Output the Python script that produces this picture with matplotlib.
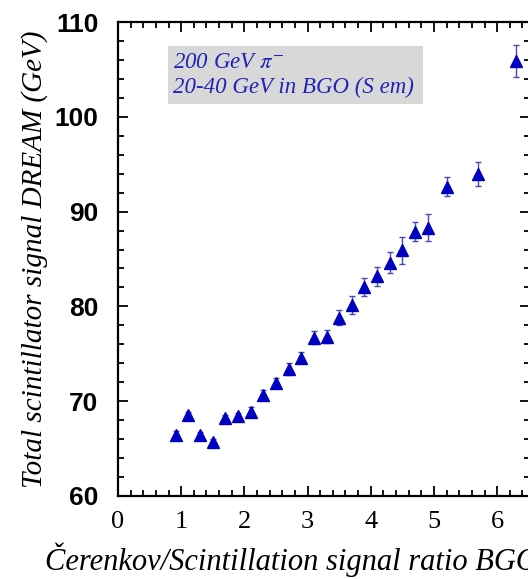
import matplotlib
matplotlib.use("Agg")
import matplotlib.pyplot as plt
from matplotlib import font_manager
from matplotlib.patches import Rectangle
from matplotlib.ticker import MultipleLocator

# Measured points: BGO Cerenkov/scintillation ratio vs total DREAM scintillator signal
ratio = [0.92, 1.1, 1.3, 1.5, 1.7, 1.9, 2.1, 2.3, 2.5, 2.7, 2.9, 3.1,
         3.3, 3.5, 3.7, 3.9, 4.1, 4.3, 4.5, 4.7, 4.9, 5.2, 5.7, 6.3]
signal = [66.4, 68.5, 66.4, 65.7, 68.2, 68.4, 68.9, 70.7, 71.9, 73.4, 74.6, 76.7,
          76.8, 78.8, 80.1, 82.0, 83.2, 84.6, 85.9, 87.9, 88.3, 92.6, 94.0, 105.9]
signal_err = [0.45, 0.4, 0.4, 0.35, 0.35, 0.4, 0.5, 0.45, 0.55, 0.6, 0.6, 0.7,
              0.7, 0.8, 0.95, 0.95, 1.0, 1.1, 1.45, 1.05, 1.4, 1.0, 1.25, 1.7]

x_ticks = [0, 1, 2, 3, 4, 5, 6]
y_ticks = [60, 70, 80, 90, 100, 110]
x_label = "Čerenkov/Scintillation signal ratio BGO"
y_label = "Total scintillator signal DREAM (GeV)"
box_lines = ["200 GeV $\\pi^{-}$", "20-40 GeV in BGO (S em)"]

available = {f.name for f in font_manager.fontManager.ttflist}
serif = "Liberation Serif" if "Liberation Serif" in available else "DejaVu Serif"
tick_sans = "Liberation Sans Narrow" if "Liberation Sans Narrow" in available else "Liberation Sans"

plt.rcParams["mathtext.fontset"] = "stix"

fig = plt.figure(figsize=(5.28, 5.79), dpi=100)
fig.patch.set_facecolor("white")
ax = fig.add_axes([118 / 528, 83 / 579, 412 / 528, 474 / 579])

ax.errorbar(ratio, signal, yerr=signal_err, fmt="^", color="#0000c0",
            markersize=8, ecolor="#4848b0", elinewidth=1.0, capsize=2.5,
            capthick=1.0, zorder=3)

ax.set_xlim(0, 6.52)
ax.set_ylim(60, 110)
ax.set_xticks(x_ticks)
ax.set_yticks(y_ticks)
ax.xaxis.set_minor_locator(MultipleLocator(0.2))
ax.yaxis.set_minor_locator(MultipleLocator(2))
ax.tick_params(which="both", direction="in", top=True, right=True, width=1.3)
ax.tick_params(which="major", length=7)
ax.tick_params(which="minor", length=4)
ax.tick_params(axis="x", which="major", pad=11)
ax.tick_params(axis="y", which="major", pad=14)
for s in ax.spines.values():
    s.set_linewidth(1.6)

ax.set_xticklabels([str(v) for v in x_ticks], fontfamily=serif, fontsize=19)
ax.set_yticklabels([str(v) for v in y_ticks], fontfamily=tick_sans,
                   fontweight="bold", fontsize=19)

ax.set_ylabel(y_label, fontfamily=serif, fontstyle="italic", fontsize=21, labelpad=5)
fig.text(45 / 528, 1 - 560 / 579, x_label, fontfamily=serif, fontstyle="italic",
         fontsize=22, ha="left", va="center")

# Grey label box in the upper left
ax.add_patch(Rectangle((0.1214, 0.827), 0.6186, 0.122, transform=ax.transAxes,
                       facecolor="#d8d8d8", edgecolor="none", zorder=1))
ax.text(0.1335, 0.914, box_lines[0], transform=ax.transAxes, color="#2222b8",
        fontfamily=serif, fontstyle="italic", fontsize=16.5, va="center", ha="left")
ax.text(0.1335, 0.862, box_lines[1], transform=ax.transAxes, color="#2222b8",
        fontfamily=serif, fontstyle="italic", fontsize=16.5, va="center", ha="left")

fig.savefig("out.png", dpi=100, facecolor="white")
